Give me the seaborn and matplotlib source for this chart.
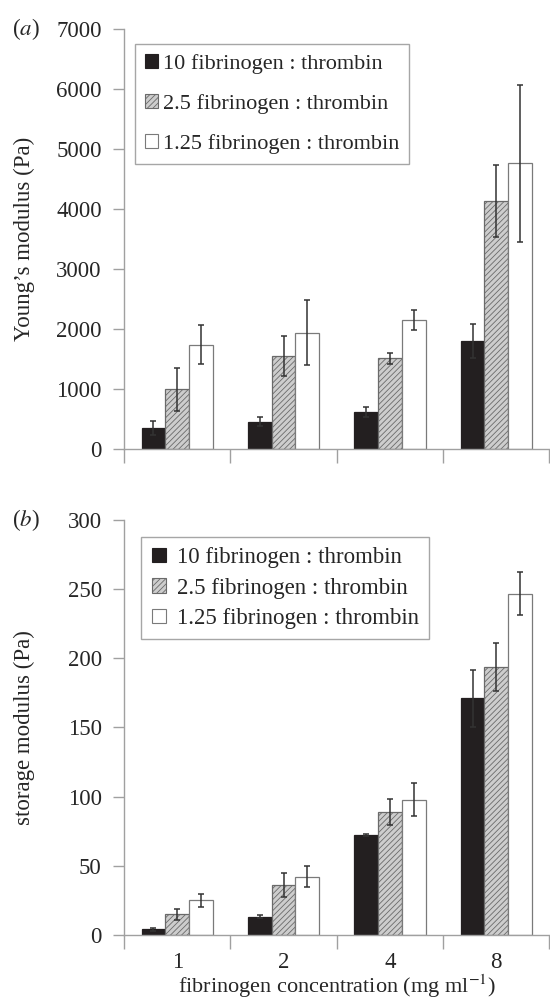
import numpy as np
import pandas as pd
import matplotlib
matplotlib.use("Agg")
import matplotlib.pyplot as plt
from matplotlib.patches import Patch
import seaborn as sns

sns.set_theme(style="white")
plt.rcParams['font.family'] = ['Liberation Serif', 'DejaVu Serif']
plt.rcParams['mathtext.fontset'] = 'stix'
plt.rcParams['hatch.color'] = '#6e6e6e'
plt.rcParams['hatch.linewidth'] = 0.6

# datos
conc = ['1', '2', '4', '8']
ratios = ['10 fibrinogen : thrombin', '2.5 fibrinogen : thrombin', '1.25 fibrinogen : thrombin']

young = [[355, 460, 620, 1805],
         [1000, 1560, 1515, 4135],
         [1745, 1945, 2155, 4765]]
young_err = [[115, 70, 85, 290],
             [360, 335, 90, 605],
             [320, 535, 170, 1310]]

storage = [[4.1, 13.2, 72.2, 171.1],
           [14.8, 35.8, 89.0, 193.7],
           [25.0, 42.0, 97.9, 246.7]]
storage_err = [[1.2, 1.2, 0.6, 20.5],
               [3.8, 8.7, 9.5, 17.5],
               [4.7, 7.5, 11.8, 15.5]]

face = ['#231f20', '#cdcdcd', 'white']
edge = ['#231f20', '#6a6a6a', '#7a7a7a']
hatch = [None, '//////', None]
spine_c = '#a0a0a0'
FS = 16.5


def long_df(vals):
    rows = []
    for r, serie in zip(ratios, vals):
        for c, v in zip(conc, serie):
            rows.append({'conc': c, 'ratio': r, 'val': v})
    return pd.DataFrame(rows)


def panel(ax, vals, errs, ylim, step, ylabel, xlabels, leg_bbox, leg_space, leg_fs, leg_pad):
    df = long_df(vals)
    sns.barplot(data=df, x='conc', y='val', hue='ratio', order=conc, hue_order=ratios,
                errorbar=None, width=0.67, palette=face, legend=False, ax=ax, saturation=1)
    bar_conts = list(ax.containers)
    for i, cont in enumerate(bar_conts):
        xs, hs = [], []
        for p in cont.patches:
            p.set_edgecolor(edge[i])
            p.set_linewidth(0.9)
            if hatch[i]:
                p.set_hatch(hatch[i])
            xs.append(p.get_x() + p.get_width() / 2)
            hs.append(p.get_height())
        ax.errorbar(xs, hs, yerr=errs[i], fmt='none', ecolor='#333333',
                    elinewidth=1.1, capsize=2, capthick=1.1, zorder=5)
    ax.set_xlim(-0.5, 3.5)
    ax.set_ylim(*ylim)
    ax.set_yticks(np.arange(ylim[0], ylim[1] + 1, step))
    ax.set_xticks(np.arange(4))
    ax.set_xticks(np.arange(-0.5, 4, 1), minor=True)
    ax.tick_params(axis='x', which='major', bottom=False, length=0, labelsize=FS, pad=12)
    ax.tick_params(axis='x', which='minor', bottom=True, length=10, width=1,
                   color=spine_c, direction='out')
    ax.tick_params(axis='y', left=True, length=8, width=1, color=spine_c,
                   direction='out', labelsize=FS, pad=8)
    if xlabels:
        ax.set_xticklabels(conc)
        ax.set_xlabel('fibrinogen concentration (mg ml$^{-1}$)', fontsize=16, labelpad=0)
    else:
        ax.set_xticklabels([])
        ax.set_xlabel('')
    ax.set_ylabel(ylabel, fontsize=FS)
    ax.yaxis.set_label_coords(-0.209, 0.5)
    sns.despine(ax=ax)
    for s in ['left', 'bottom']:
        ax.spines[s].set_color(spine_c)
        ax.spines[s].set_linewidth(1)

    handles = [Patch(facecolor=face[i], edgecolor=edge[i], hatch=hatch[i], linewidth=0.8)
               for i in range(3)]
    leg = ax.legend(handles, ratios, loc='upper left', bbox_to_anchor=leg_bbox,
                    fontsize=leg_fs, frameon=True, fancybox=False, handlelength=0.6,
                    handleheight=0.6, handletextpad=leg_pad, labelspacing=leg_space,
                    borderpad=0.45, borderaxespad=0)
    leg.get_frame().set_edgecolor('#909090')
    leg.get_frame().set_linewidth(1)


fig = plt.figure(figsize=(5.5, 9.99), dpi=100)
ax1 = fig.add_axes([0.2255, 0.5503, 0.7735, 0.4204])
ax2 = fig.add_axes([0.2255, 0.0641, 0.7735, 0.4154])

panel(ax1, young, young_err, (0, 7000), 1000, 'Young\u2019s modulus (Pa)',
      False, (0.026, 0.965), 0.9, 16, 0.2)
panel(ax2, storage, storage_err, (0, 300), 50, 'storage modulus (Pa)',
      True, (0.041, 0.96), 0.42, 16.5, 0.5)

fig.text(0.022, 0.9707, '($\\mathit{a}$)', fontsize=FS, va='center', ha='left')
fig.text(0.022, 0.4795, '($\\mathit{b}$)', fontsize=FS, va='center', ha='left')

fig.savefig('out.png', dpi=100)
